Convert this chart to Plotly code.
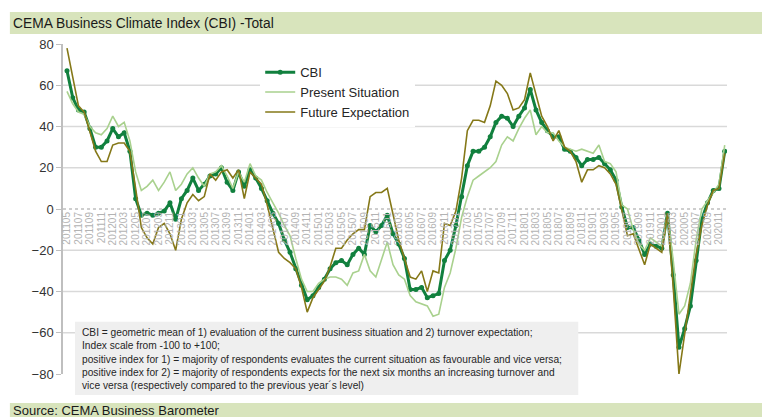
import plotly.graph_objects as go

# categories: monthly, 2011-05 .. 2020-12
months = [f"{2011 + (4 + k) // 12}{(4 + k) % 12 + 1:02d}" for k in range(116)]

cbi = [67, 54, 48, 47, 39, 30, 30, 33, 39, 35, 37, 28, 5, -3, -2, -3, -2, -1, 3, -5,
       5, 9, 15, 9, 12, 16, 17, 20, 13, 9, 18, 11, 19, 15, 10, 4, -2, -7, -15, -21,
       -29, -37, -44, -42, -38, -34, -29, -26, -25, -27, -22, -19, -22, -8, -11, -8, -3, -12, -17, -24,
       -39, -39, -38, -43, -42, -41, -25, -20, -8, 6, 21, 28, 28, 30, 35, 42, 45, 44, 40, 45,
       49, 58, 48, 42, 38, 35, 35, 29, 28, 25, 21, 24, 24, 25, 22, 19, 14, 1, -9, -9,
       -15, -22, -17, -18, -19, -2, -32, -67, -58, -47, -25, -5, 3, 9, 10, 28]

present = [57, 51, 47, 46, 40, 37, 36, 39, 45, 40, 42, 33, 18, 9, 11, 14, 9, 13, 18, 9,
           12, 17, 20, 15, 11, 17, 18, 21, 16, 10, 18, 13, 22, 16, 14, 8, 3, -2, -8, -13,
           -24, -34, -40, -40, -36, -34, -33, -33, -34, -37, -31, -30, -22, -30, -33, -24, -16, -27, -32, -34,
           -42, -45, -46, -47, -52, -51, -38, -31, -19, -4, 6, 14, 16, 18, 20, 23, 31, 35, 33, 39,
           44, 48, 36, 40, 37, 37, 33, 30, 29, 28, 29, 28, 27, 31, 23, 22, 18, 2, 0, -10,
           -17, -20, -14, -16, -18, -3, -25, -51, -47, -36, -15, 0, 4, 8, 12, 31]

future = [78, 63, 50, 47, 38, 28, 23, 23, 31, 32, 32, 28, 10, -9, -14, -17, -9, -7, -12, -20,
          -5, 3, 7, 4, 6, 17, 14, 18, 19, 15, 19, 5, 18, 15, 12, 2, -10, -21, -24, -26,
          -29, -38, -50, -43, -39, -35, -28, -19, -19, -15, -12, -10, -10, 6, 8, 8, 10, -3, -15, -24,
          -33, -34, -30, -40, -30, -31, -7, -8, -1, 15, 38, 43, 43, 42, 50, 62, 60, 56, 48, 49,
          53, 66, 55, 45, 40, 33, 38, 30, 28, 23, 13, 19, 19, 21, 20, 17, 12, 0, -13, -12,
          -20, -27, -17, -19, -21, -2, -38, -80, -61, -41, -22, -8, 2, 9, 10, 27]

y_ticks = [80, 60, 40, 20, 0, -20, -40, -60, -80]
grid_vals = [60, 40, 20, -20, -40, -60]

title_text = "CEMA Business Climate Index (CBI) -Total"
source_text = "Source: CEMA Business Barometer"
note_lines = [
    "CBI = geometric mean of 1) evaluation of the current business situation and 2) turnover expectation;",
    "Index scale from -100 to +100;",
    "positive index for 1) = majority of respondents evaluates the current situation as favourable and vice versa;",
    "positive index for 2) = majority of respondents expects for the next six months an increasing turnover and",
    "vice versa (respectively compared to the previous year\u00b4s level)",
]

C_CBI = "#11803e"
C_PRES = "#a9d18e"
C_FUT = "#857818"
FONT = "Arial, Liberation Sans, sans-serif"

fig = go.Figure()
fig.add_trace(go.Scatter(x=months, y=cbi, name="CBI", mode="lines+markers",
                         line=dict(color=C_CBI, width=3), marker=dict(size=5, color=C_CBI)))
fig.add_trace(go.Scatter(x=months, y=present, name="Present Situation", mode="lines",
                         line=dict(color=C_PRES, width=1.6)))
fig.add_trace(go.Scatter(x=months, y=future, name="Future Expectation", mode="lines",
                         line=dict(color=C_FUT, width=1.6)))

shapes = []
for g in grid_vals:
    shapes.append(dict(type="line", xref="paper", yref="y", x0=0, x1=1, y0=g, y1=g,
                       line=dict(color="#d9d9d9", width=1.5), layer="below"))
shapes.append(dict(type="line", xref="paper", yref="y", x0=0, x1=1, y0=0, y1=0,
                   line=dict(color="#bfbfbf", width=1.5, dash="dot"), layer="below"))
# title & source bands
shapes.append(dict(type="rect", xref="paper", yref="paper", x0=-0.08, x1=1.07, y0=1.03, y1=1.097,
                   fillcolor="#d8e4bc", line=dict(width=0), layer="below"))
shapes.append(dict(type="rect", xref="paper", yref="paper", x0=-0.08, x1=1.07, y0=-0.14, y1=-0.088,
                   fillcolor="#d8e4bc", line=dict(width=0), layer="below"))
# note box
shapes.append(dict(type="rect", xref="paper", yref="paper", x0=0.018, x1=0.776, y0=-0.064, y1=0.158,
                   fillcolor="#efefef", line=dict(width=0), layer="above"))

annotations = [
    dict(xref="paper", yref="paper", x=-0.078, y=1.063, xanchor="left", yanchor="middle",
         text=title_text, showarrow=False, font=dict(family=FONT, size=13.8, color="#1a1a1a")),
    dict(xref="paper", yref="paper", x=-0.078, y=-0.112, xanchor="left", yanchor="middle",
         text=source_text, showarrow=False, font=dict(family=FONT, size=13, color="#1a1a1a")),
    dict(x=months[-1], y=cbi[-1], xref="x", yref="y", text=str(cbi[-1]), showarrow=False,
         xanchor="left", xshift=12, font=dict(family=FONT, size=13, color="#333333")),
    dict(xref="paper", yref="paper", x=0.026, y=0.148, xanchor="left", yanchor="top", align="left",
         text="<br>".join(note_lines), showarrow=False,
         font=dict(family=FONT, size=10.2, color="#262626")),
]

fig.update_layout(
    width=762, height=409,
    margin=dict(l=55, r=43, t=36, b=43),
    paper_bgcolor="white", plot_bgcolor="white",
    font=dict(family=FONT, color="#333333"),
    showlegend=True,
    legend=dict(x=0.297, y=0.96, xanchor="left", yanchor="top", bgcolor="white",
                font=dict(family=FONT, size=13, color="#262626"), tracegroupgap=0,
                itemwidth=30),
    xaxis=dict(type="category", categoryorder="array", categoryarray=months,
               range=[-0.7, 115.4], anchor="free", position=0.5,
               tickmode="array", tickvals=months[::2], ticktext=months[::2],
               tickangle=-90, tickfont=dict(family=FONT, size=10, color="#b3b3b3"),
               showgrid=False, showline=False, ticks="", zeroline=False),
    yaxis=dict(range=[-80, 80], tickvals=y_ticks, showgrid=False, zeroline=False,
               showline=True, linecolor="#bfbfbf", linewidth=1.5,
               ticks="outside", ticklen=5, tickcolor="#bfbfbf",
               tickfont=dict(family=FONT, size=13, color="#333333")),
    shapes=shapes,
    annotations=annotations,
)

fig.write_html("out.html")
